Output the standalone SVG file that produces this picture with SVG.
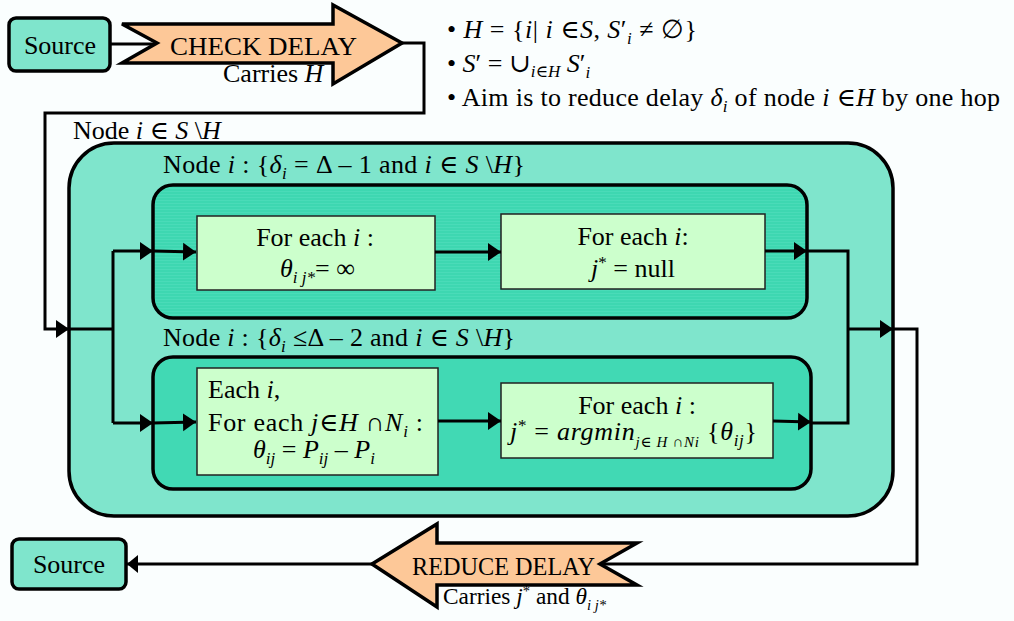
<svg xmlns="http://www.w3.org/2000/svg" width="1014" height="621" viewBox="0 0 1014 621" font-family="'Liberation Serif', 'DejaVu Serif', serif">
<style>
text{font-family:'Liberation Serif','DejaVu Serif',serif;fill:#000;font-size:26px;}
.it{font-style:italic;}
.sub{font-size:17px;}
.ssub{font-size:15px;}
.wire{fill:none;stroke:#000;stroke-width:3;}
.arr{fill:none;stroke:#000;stroke-width:3;marker-end:url(#ah);}
.src{fill:#7fe5cc;stroke:#000;stroke-width:3.5;}
.fat{fill:#fdc898;stroke:#000;stroke-width:3.5;stroke-linejoin:miter;}
.lbox{fill:#ccffcc;stroke:#222;stroke-width:1.5;}
</style>
<defs>
<marker id="ah" markerUnits="userSpaceOnUse" markerWidth="14" markerHeight="20" viewBox="0 0 14 20" refX="13" refY="10" orient="auto">
<path d="M0,1 L13,10 L0,19 Z" fill="#000"/>
</marker>
<marker id="ahs" markerUnits="userSpaceOnUse" markerWidth="12" markerHeight="20" viewBox="0 0 12 20" refX="11" refY="10" orient="auto">
<path d="M0,1 L11,10 L0,19 Z" fill="#000"/>
</marker>
<pattern id="stripe" width="8" height="3" patternUnits="userSpaceOnUse">
<rect width="8" height="3" fill="#3ed7b1"/>
<rect y="2" width="8" height="1" fill="#4adbb8"/>
</pattern>
</defs>
<rect width="1014" height="621" fill="#fafefe"/>

<g id="source-top">
<rect class="src" x="9" y="18" width="101" height="53" rx="7"/>
<text x="60" y="54" text-anchor="middle">Source</text>
</g>

<g id="check-delay">
<path class="fat" d="M122,24 L333,24 L333,5 L402,43 L333,84 L333,63 L122,63 L157,43 Z"/>
<text x="170" y="55" textLength="187" lengthAdjust="spacingAndGlyphs">CHECK DELAY</text>
<text x="223" y="82">Carries <tspan class="it">H</tspan></text>
</g>

<g id="notes">
<text x="447" y="38" textLength="250" lengthAdjust="spacing">• <tspan class="it">H</tspan> = {<tspan class="it">i</tspan>| <tspan class="it">i</tspan> ∈<tspan class="it">S</tspan>, <tspan class="it">S</tspan>′<tspan class="sub it" dy="6">i</tspan><tspan dy="-6"> ≠ ∅}</tspan></text>
<text x="447" y="72">• <tspan class="it">S</tspan>′ = ∪<tspan class="sub it" dy="5">i∈H</tspan><tspan dy="-5"> </tspan><tspan class="it">S</tspan>′<tspan class="sub it" dy="6">i</tspan></text>
<text x="447" y="106" textLength="553" lengthAdjust="spacing">• Aim is to reduce delay <tspan class="it">δ</tspan><tspan class="sub it" dy="6">i</tspan><tspan dy="-6"> of node </tspan><tspan class="it">i</tspan> ∈<tspan class="it">H</tspan> by one hop</text>
</g>

<g id="group-outer">
<rect x="69" y="143" width="824" height="373" rx="45" fill="#7fe5cc" stroke="#000" stroke-width="3.5"/>
<text x="73" y="139">Node <tspan class="it">i</tspan> ∈ <tspan class="it">S</tspan> \<tspan class="it">H</tspan></text>
</g>

<g id="group-top">
<rect x="153" y="185" width="654" height="133" rx="20" fill="url(#stripe)" stroke="#000" stroke-width="3.5"/>
<text x="163" y="173" textLength="362" lengthAdjust="spacing">Node <tspan class="it">i</tspan> : {<tspan class="it">δ</tspan><tspan class="sub it" dy="6">i</tspan><tspan dy="-6">  = Δ – 1 and </tspan><tspan class="it">i</tspan> ∈ <tspan class="it">S</tspan> \<tspan class="it">H</tspan>}</text>
</g>

<g id="group-bottom">
<rect x="153" y="357" width="658" height="132" rx="20" fill="#41d9b4" stroke="#000" stroke-width="3.5"/>
<text x="163" y="346" textLength="352" lengthAdjust="spacing">Node <tspan class="it">i</tspan> : {<tspan class="it">δ</tspan><tspan class="sub it" dy="6">i</tspan><tspan dy="-6"> ≤Δ  – 2 and </tspan><tspan class="it">i</tspan> ∈ <tspan class="it">S</tspan> \<tspan class="it">H</tspan>}</text>
</g>

<g id="box-init-theta">
<rect class="lbox" x="197" y="216" width="238" height="74"/>
<text x="315" y="246" text-anchor="middle">For each <tspan class="it">i</tspan> :</text>
<text x="280" y="277"><tspan class="it">θ</tspan><tspan class="sub it" dy="6">i j*</tspan><tspan dy="-6">= ∞</tspan></text>
</g>

<g id="box-null">
<rect class="lbox" x="501" y="214" width="264" height="75"/>
<text x="633" y="245" text-anchor="middle">For each <tspan class="it">i</tspan>:</text>
<text x="633" y="277" text-anchor="middle"><tspan class="it">j</tspan><tspan class="sub" dy="-9">*</tspan><tspan dy="9"> = null</tspan></text>
</g>

<g id="box-compute-theta">
<rect class="lbox" x="197" y="368" width="241" height="107"/>
<text x="208" y="398">Each <tspan class="it">i</tspan>,</text>
<text x="208" y="431" textLength="215" lengthAdjust="spacing">For each  <tspan class="it">j</tspan>∈<tspan class="it">H</tspan> ∩<tspan class="it">N</tspan><tspan class="sub it" dy="6">i</tspan><tspan dy="-6"> :</tspan></text>
<text x="253" y="458"><tspan class="it">θ</tspan><tspan class="sub it" dy="6">ij</tspan><tspan dy="-6"> = </tspan><tspan class="it">P</tspan><tspan class="sub it" dy="6">ij</tspan><tspan dy="-6"> – </tspan><tspan class="it">P</tspan><tspan class="sub it" dy="6">i</tspan></text>
</g>

<g id="box-argmin">
<rect class="lbox" x="501" y="383" width="272" height="75"/>
<text x="637" y="414" text-anchor="middle">For each <tspan class="it">i</tspan> :</text>
<text x="510" y="440" textLength="247" lengthAdjust="spacing"><tspan class="it">j</tspan><tspan class="sub" dy="-9">*</tspan><tspan dy="9"> = </tspan><tspan class="it">argmin</tspan><tspan class="ssub it" dy="7">j∈ H ∩Ni</tspan><tspan dy="-7">  {</tspan><tspan class="it">θ</tspan><tspan class="sub it" dy="6">ij</tspan><tspan dy="-6">}</tspan></text>
</g>

<g id="reduce-delay">
<path class="fat" d="M372,564 L437,524 L437,543 L637,543 L600,564 L637,585 L437,585 L437,607 Z"/>
<text x="412" y="575" textLength="183" lengthAdjust="spacingAndGlyphs">REDUCE DELAY</text>
<text x="443" y="604" style="font-size:24px" textLength="163" lengthAdjust="spacingAndGlyphs">Carries <tspan class="it">j</tspan><tspan class="sub" style="font-size:15px" dy="-8">*</tspan><tspan dy="8"> and </tspan><tspan class="it">θ</tspan><tspan class="sub it" style="font-size:15px" dy="6">i j*</tspan></text>
</g>

<g id="source-bottom">
<rect class="src" x="12" y="539" width="114" height="50" rx="7"/>
<text x="69" y="573" text-anchor="middle">Source</text>
</g>

<g id="connectors">
<path class="wire" d="M110,44 L155,44"/>
<path class="arr" d="M402,43 L424,43 L424,113 L45,113 L45,329 L69,329"/>
<path class="wire" d="M69,329 L113,329"/>
<path class="wire" d="M113,251 L113,423"/>
<path class="arr" d="M113,251 L153,251"/>
<path class="arr" d="M153,251 L196,252"/>
<path class="arr" d="M113,423 L153,423"/>
<path class="arr" d="M153,423 L196,422"/>
<path class="arr" d="M435,252 L501,252"/>
<path class="arr" d="M438,421 L501,421"/>
<path class="arr" d="M765,251 L807,251"/>
<path class="wire" d="M807,251 L848,251 L848,423 L811,423"/>
<path class="arr" d="M773,421 L811,422"/>
<path class="arr" d="M848,329 L893,329"/>
<path class="wire" d="M893,329 L917,329 L917,564 L602,564"/>
<path class="arr" style="marker-end:url(#ahs)" d="M372,564 L127,564"/>
</g>
</svg>
